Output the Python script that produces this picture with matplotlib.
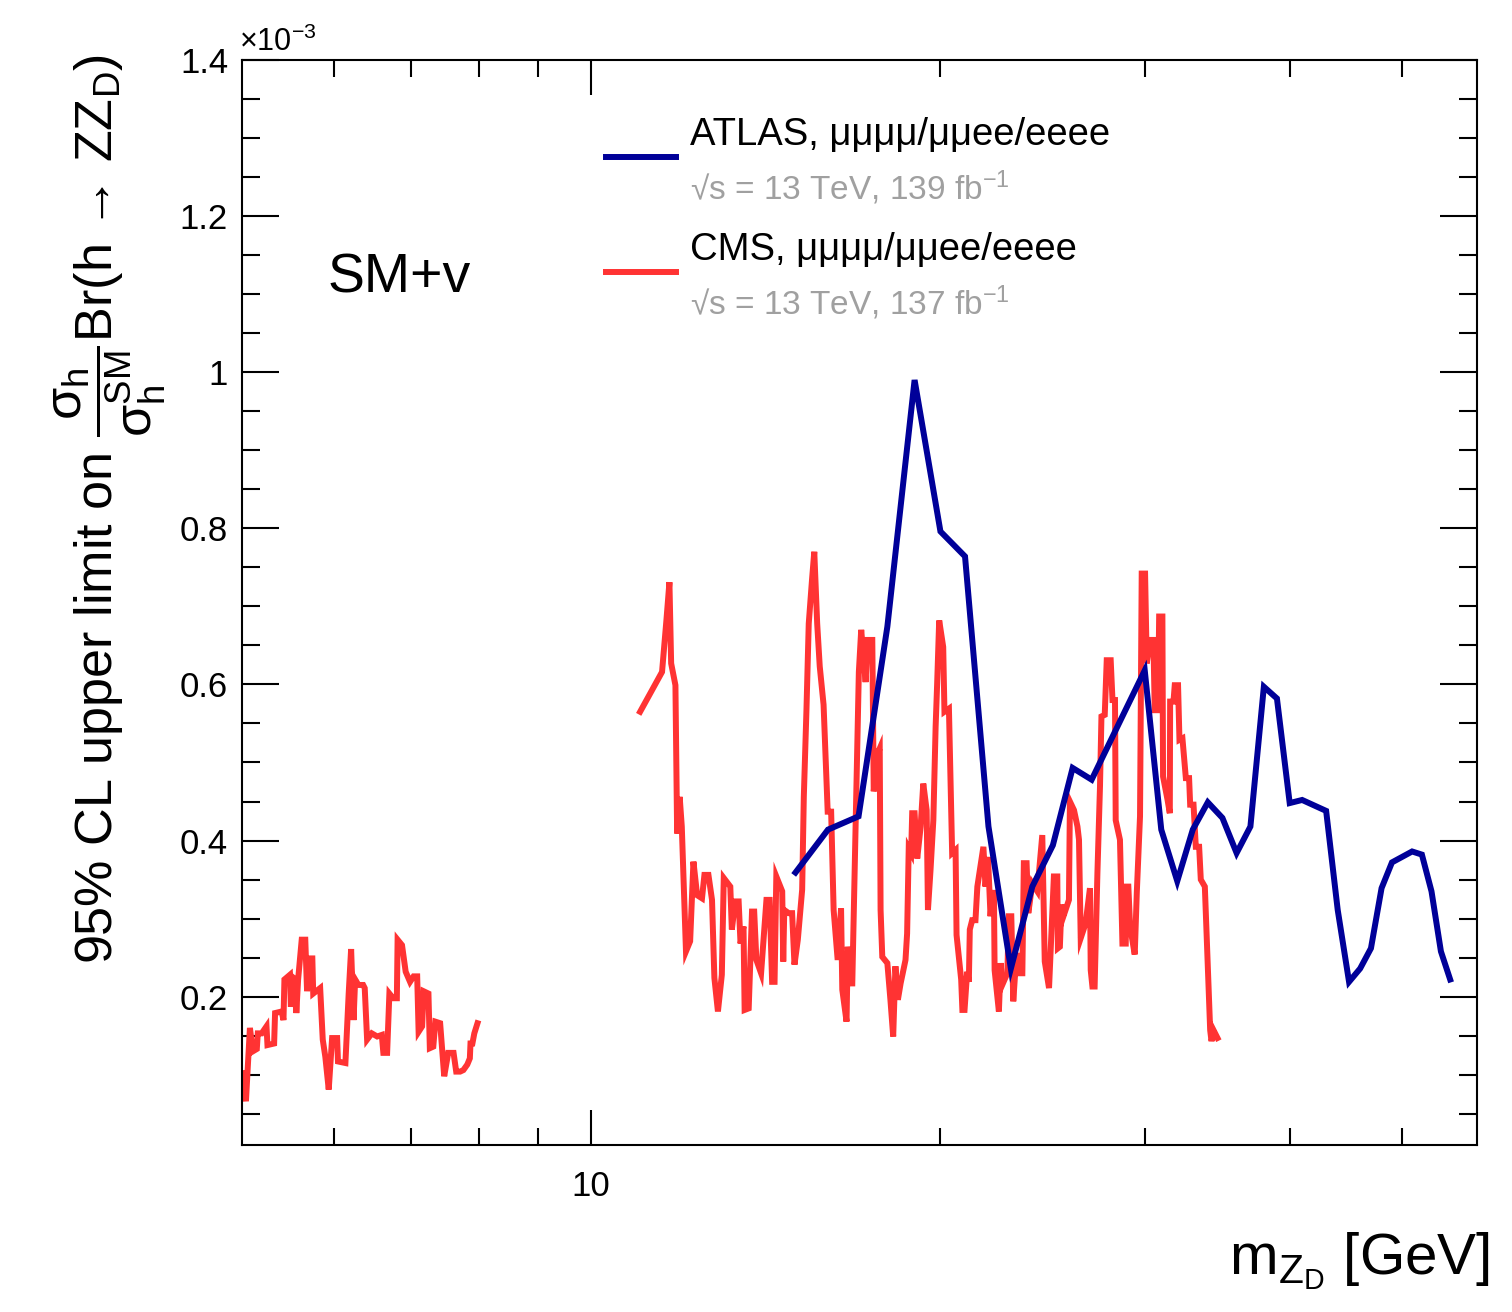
import numpy as np
import matplotlib
matplotlib.use('Agg')
import matplotlib.pyplot as plt
from matplotlib.ticker import FixedLocator, NullFormatter, FuncFormatter
from matplotlib.lines import Line2D

plt.rcParams['font.family'] = ['Liberation Sans', 'DejaVu Sans']
plt.rcParams['mathtext.fontset'] = 'custom'
plt.rcParams['mathtext.rm'] = 'Liberation Sans'
plt.rcParams['mathtext.it'] = 'Liberation Sans'
plt.rcParams['mathtext.default'] = 'regular'

# limits in units of 1e-3, masses in GeV
atlas_mass = [15, 16, 17, 18, 19, 20, 21, 22, 23, 24, 25, 26, 27, 30, 31, 32, 33, 34, 35,
              36, 37, 38, 39, 40, 41, 43, 44, 45, 46, 47, 48, 49, 51, 52, 53, 54, 55]
atlas_limit = [0.359, 0.414, 0.431, 0.674, 0.990, 0.796, 0.764, 0.418, 0.236, 0.341, 0.394,
               0.493, 0.478, 0.618, 0.414, 0.348, 0.414, 0.449, 0.429, 0.384, 0.418, 0.597,
               0.582, 0.448, 0.452, 0.438, 0.311, 0.219, 0.236, 0.262, 0.339, 0.372, 0.386,
               0.382, 0.335, 0.258, 0.222]

# CMS, low mass part
cms_mass_low = [5.01, 5.04, 5.08, 5.11, 5.15, 5.16, 5.20, 5.25, 5.26, 5.33,
                5.34, 5.41, 5.43, 5.44, 5.50, 5.51, 5.54, 5.56, 5.57, 5.59,
                5.63, 5.67, 5.69, 5.71, 5.75, 5.76, 5.84, 5.87, 5.90, 5.94,
                5.98, 6.04, 6.05, 6.14, 6.18, 6.21, 6.24, 6.26, 6.30, 6.36,
                6.38, 6.41, 6.47, 6.54, 6.60, 6.62, 6.67, 6.70, 6.75, 6.80,
                6.81, 6.87, 6.92, 6.98, 7.03, 7.08, 7.10, 7.15, 7.17, 7.24,
                7.26, 7.31, 7.34, 7.41, 7.47, 7.53, 7.61, 7.65, 7.71, 7.76,
                7.82, 7.86, 7.87, 7.90, 7.93, 7.98]
cms_limit_low = [0.102, 0.066, 0.160, 0.130, 0.133, 0.153, 0.153, 0.162, 0.138, 0.140,
                 0.179, 0.181, 0.170, 0.222, 0.228, 0.187, 0.224, 0.222, 0.179, 0.222,
                 0.273, 0.273, 0.207, 0.249, 0.249, 0.204, 0.211, 0.145, 0.123, 0.081,
                 0.147, 0.147, 0.117, 0.115, 0.204, 0.261, 0.170, 0.222, 0.215, 0.215,
                 0.211, 0.145, 0.153, 0.149, 0.151, 0.128, 0.128, 0.204, 0.198, 0.198,
                 0.273, 0.266, 0.232, 0.219, 0.226, 0.226, 0.155, 0.162, 0.207, 0.204,
                 0.134, 0.136, 0.168, 0.166, 0.098, 0.128, 0.128, 0.104, 0.104, 0.106,
                 0.113, 0.121, 0.140, 0.140, 0.153, 0.166]

# CMS, high mass part
cms_mass_high = [11.02, 11.51, 11.61, 11.68, 11.72, 11.82, 11.86, 11.92, 11.97, 12.07,
                 12.17, 12.25, 12.34, 12.46, 12.52, 12.62, 12.71, 12.77, 12.86, 12.96,
                 13.01, 13.18, 13.22, 13.31, 13.40, 13.45, 13.53, 13.56, 13.67, 13.76,
                 13.82, 13.88, 14.01, 14.16, 14.25, 14.32, 14.39, 14.44, 14.61, 14.64,
                 14.67, 14.80, 14.90, 14.97, 15.07, 15.20, 15.25, 15.33, 15.40, 15.50,
                 15.57, 15.66, 15.74, 15.86, 15.99, 16.10, 16.18, 16.31, 16.42, 16.46,
                 16.60, 16.64, 16.73, 16.79, 16.90, 17.01, 17.09, 17.24, 17.31, 17.47,
                 17.52, 17.66, 17.73, 17.76, 17.82, 18.00, 18.11, 18.21, 18.29, 18.38,
                 18.48, 18.66, 18.72, 18.78, 18.87, 18.91, 19.00, 19.10, 19.23, 19.33,
                 19.46, 19.51, 19.61, 19.72, 19.81, 19.87, 19.95, 20.11, 20.16, 20.34,
                 20.47, 20.61, 20.65, 20.84, 20.89, 20.98, 21.09, 21.16, 21.20, 21.30,
                 21.44, 21.52, 21.78, 21.87, 21.98, 22.09, 22.17, 22.24, 22.27, 22.46,
                 22.54, 22.61, 22.84, 22.91, 23.02, 23.11, 23.26, 23.37, 23.53, 23.60,
                 23.73, 23.81, 24.00, 24.24, 24.48, 24.60, 24.81, 25.05, 25.22, 25.25,
                 25.35, 25.43, 25.53, 25.81, 25.86, 26.07, 26.25, 26.33, 26.42, 26.68,
                 26.91, 26.95, 27.04, 27.16, 27.31, 27.45, 27.53, 27.71, 27.82, 28.04,
                 28.14, 28.28, 28.32, 28.56, 28.70, 28.89, 28.92, 29.04, 29.14, 29.41,
                 29.53, 29.72, 29.82, 30.02, 30.12, 30.32, 30.52, 30.60, 30.80, 30.87,
                 31.07, 31.11, 31.39, 31.53, 31.55, 31.76, 31.84, 32.05, 32.14, 32.33,
                 32.55, 32.76, 32.83, 33.05, 33.20, 33.42, 33.53, 33.80, 34.16, 34.25,
                 34.39, 34.66]
cms_limit_high = [0.565, 0.616, 0.682, 0.731, 0.627, 0.599, 0.409, 0.456, 0.418, 0.258,
                  0.271, 0.373, 0.330, 0.326, 0.356, 0.356, 0.324, 0.224, 0.181, 0.228,
                  0.352, 0.341, 0.286, 0.322, 0.322, 0.268, 0.290, 0.183, 0.185, 0.309,
                  0.309, 0.247, 0.230, 0.324, 0.324, 0.219, 0.219, 0.354, 0.335, 0.245,
                  0.311, 0.307, 0.307, 0.241, 0.273, 0.337, 0.456, 0.567, 0.678, 0.734,
                  0.770, 0.678, 0.623, 0.574, 0.437, 0.437, 0.311, 0.247, 0.313, 0.209,
                  0.168, 0.264, 0.217, 0.217, 0.418, 0.616, 0.670, 0.603, 0.657, 0.657,
                  0.463, 0.512, 0.518, 0.311, 0.251, 0.243, 0.196, 0.149, 0.239, 0.196,
                  0.217, 0.247, 0.281, 0.390, 0.384, 0.435, 0.435, 0.377, 0.418, 0.473,
                  0.439, 0.311, 0.362, 0.426, 0.546, 0.601, 0.682, 0.648, 0.565, 0.569,
                  0.384, 0.388, 0.279, 0.222, 0.183, 0.183, 0.232, 0.219, 0.286, 0.298,
                  0.298, 0.341, 0.392, 0.341, 0.379, 0.303, 0.333, 0.333, 0.234, 0.181,
                  0.243, 0.215, 0.230, 0.303, 0.303, 0.194, 0.256, 0.230, 0.230, 0.371,
                  0.371, 0.307, 0.345, 0.335, 0.407, 0.245, 0.211, 0.354, 0.354, 0.262,
                  0.264, 0.318, 0.303, 0.324, 0.450, 0.439, 0.418, 0.401, 0.275, 0.294,
                  0.339, 0.234, 0.213, 0.213, 0.358, 0.469, 0.559, 0.561, 0.631, 0.631,
                  0.580, 0.580, 0.426, 0.401, 0.268, 0.268, 0.341, 0.341, 0.290, 0.254,
                  0.333, 0.431, 0.742, 0.742, 0.627, 0.657, 0.657, 0.567, 0.567, 0.687,
                  0.687, 0.482, 0.452, 0.435, 0.578, 0.578, 0.599, 0.599, 0.529, 0.531,
                  0.480, 0.480, 0.446, 0.446, 0.392, 0.392, 0.350, 0.341, 0.157, 0.143,
                  0.157, 0.147]

blue = '#000099'
red = '#ff3333'
gray = '#a0a0a0'
lw = 4.3

fig = plt.figure(figsize=(15.12, 13.12), dpi=100)
ax = fig.add_axes([0.160, 0.1273, 0.8168, 0.8270])

ax.plot(cms_mass_low, cms_limit_low, color=red, lw=lw, solid_joinstyle='miter')
ax.plot(cms_mass_high, cms_limit_high, color=red, lw=lw, solid_joinstyle='miter')
ax.plot(atlas_mass, atlas_limit, color=blue, lw=lw, solid_joinstyle='miter')

ax.set_xscale('log')
ax.set_xlim(5, 58)
ax.set_ylim(0.01, 1.4)

ax.xaxis.set_major_locator(FixedLocator([10]))
ax.xaxis.set_minor_locator(FixedLocator([6, 7, 8, 9, 20, 30, 40, 50]))
ax.xaxis.set_major_formatter(FuncFormatter(lambda v, p: '%g' % v))
ax.xaxis.set_minor_formatter(NullFormatter())
ax.yaxis.set_major_locator(FixedLocator(np.arange(0.2, 1.41, 0.2)))
ax.yaxis.set_minor_locator(FixedLocator(np.arange(0.05, 1.41, 0.05)))
ax.yaxis.set_major_formatter(FuncFormatter(lambda v, p: '%g' % round(v, 2)))

ax.tick_params(which='both', direction='in', top=True, right=True, width=1.5,
               labelsize=25)
ax.tick_params(axis='y', which='major', length=26.5, pad=10)
ax.tick_params(axis='y', which='minor', length=13)
ax.tick_params(axis='x', which='major', length=25, pad=18)
ax.tick_params(axis='x', which='minor', length=12.5)
for s in ax.spines.values():
    s.set_linewidth(1.5)

ax.text(-0.002, 1.002, r'$\times$10$^{-3}$', transform=ax.transAxes, fontsize=22,
        ha='left', va='bottom')

# legend
ax.add_line(Line2D([0.2947, 0.3514], [0.9106, 0.9106], transform=ax.transAxes,
                   color=blue, lw=lw))
ax.add_line(Line2D([0.2947, 0.3514], [0.8046, 0.8046], transform=ax.transAxes,
                   color=red, lw=lw))
ax.text(0.3628, 0.9217, 'ATLAS, μμμμ/μμee/eeee', transform=ax.transAxes,
        fontsize=27.5, va='baseline')
ax.text(0.3628, 0.8710, r'√s = 13 TeV, 139 fb$^{-1}$', transform=ax.transAxes,
        fontsize=24, va='baseline', color=gray)
ax.text(0.3628, 0.8157, 'CMS, μμμμ/μμee/eeee', transform=ax.transAxes,
        fontsize=27.5, va='baseline')
ax.text(0.3628, 0.7650, r'√s = 13 TeV, 137 fb$^{-1}$', transform=ax.transAxes,
        fontsize=24, va='baseline', color=gray)

ax.text(0.0696, 0.7853, 'SM+v', transform=ax.transAxes, fontsize=40, va='baseline')

fig.text(0.073, 0.959,
         r'95% CL upper limit on $\dfrac{\sigma_{h}}{\sigma_{h}^{SM}}$Br(h → ZZ$_{D}$)',
         rotation=90, ha='center', va='top', fontsize=37.5)
fig.text(0.9854, 0.0282, r'm$_{Z_{D}}$ [GeV]', ha='right', va='baseline', fontsize=42)

fig.savefig('out.png', dpi=100)
